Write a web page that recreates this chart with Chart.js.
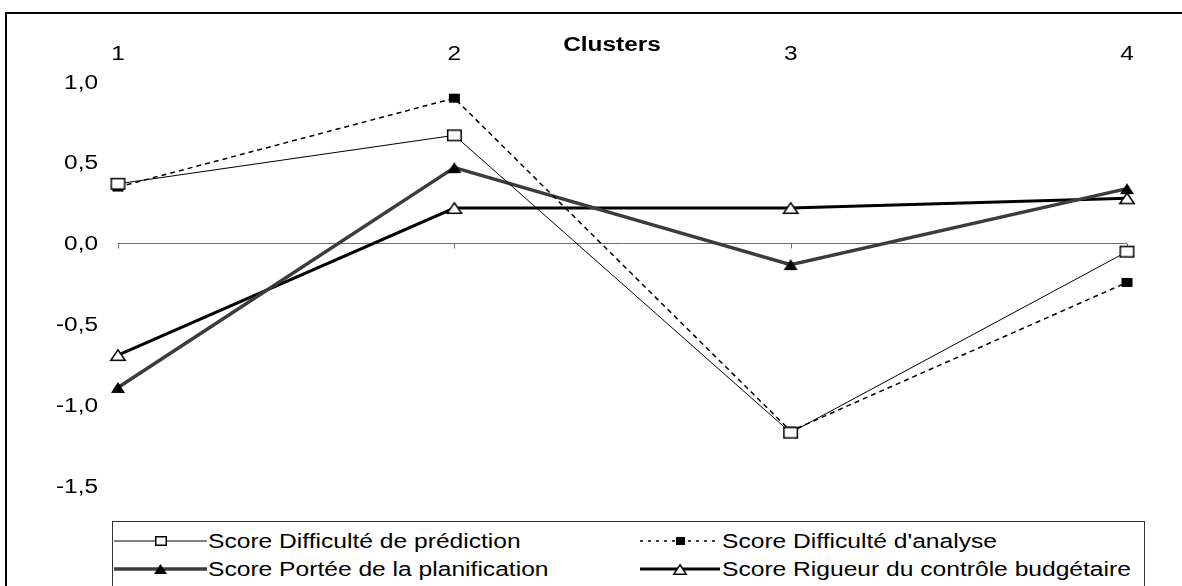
<!DOCTYPE html>
<html>
<head>
<meta charset="utf-8">
<script src="https://cdn.jsdelivr.net/npm/chart.js@4"></script>
<style>
  body { margin: 0; background: #fff; overflow: hidden; font-family: "Liberation Sans", Arial, sans-serif; }
  #wrap { position: relative; width: 1182px; height: 586px; overflow: hidden; }
  #frame { position: absolute; left: 5px; top: 12px; width: 1300px; height: 700px; border-top: 2px solid #000; border-left: 2px solid #000; }
  #chart { position: absolute; left: 0; top: 0; }
  #title { position: absolute; left: 512px; top: 33px; width: 200px; text-align: center; font-weight: bold; font-size: 20px; transform: scaleX(1.22); }
  #legend { position: absolute; left: 112px; top: 521px; width: 1031px; height: 90px; border: 1px solid #333; background: #fff; }
  .item { position: absolute; height: 28px; }
  .item canvas { position: absolute; left: 0; top: 0; }
  .item span { position: absolute; top: 3px; font-size: 20px; white-space: nowrap; color: #000; transform: scaleX(1.23); transform-origin: 0 50%; }
</style>
</head>
<body>
<div id="wrap">
  <div id="frame"></div>
  <canvas id="chart" width="1182" height="586"></canvas>
  <div id="title">Clusters</div>
  <div id="legend"></div>
</div>
<script>
// data
const categories = ["1", "2", "3", "4"];
const labels = [
  "Score Difficulté de prédiction",
  "Score Difficulté d'analyse",
  "Score Portée de la planification",
  "Score Rigueur du contrôle budgétaire",
];
const prediction = [0.37, 0.67, -1.17, -0.05];
const analyse = [0.35, 0.9, -1.16, -0.24];
const portee = [-0.89, 0.47, -0.13, 0.34];
const rigueur = [-0.69, 0.22, 0.22, 0.28];
const yTicks = [1.0, 0.5, 0.0, -0.5, -1.0, -1.5];

const fontFam = "'Liberation Sans', Arial, sans-serif";
const SX = 1.22; // the picture is wider than tall: stretch text + markers
const canvasChart = document.getElementById("chart");
const fmt = (v) => Number(v).toFixed(1).replace(".", ",");

// marker images (a bit wider than tall)
const makeMarker = (kind, w, h, fill, stroke, lw) => {
  const cv = document.createElement("canvas");
  cv.width = w + 2;
  cv.height = h + 2;
  const c = cv.getContext("2d");
  c.fillStyle = fill;
  c.strokeStyle = stroke;
  c.lineWidth = lw;
  const p = lw / 2 + 1;
  c.beginPath();
  if (kind === "square") {
    c.rect(p, p, cv.width - 2 * p, cv.height - 2 * p);
  } else {
    c.moveTo(cv.width / 2, p);
    c.lineTo(cv.width - p, cv.height - p);
    c.lineTo(p, cv.height - p);
    c.closePath();
  }
  c.fill();
  if (lw > 0) c.stroke();
  return cv;
};

const markers = [
  makeMarker("square", 15, 12, "#fff", "#000", 1.5),
  makeMarker("square", 11, 9, "#000", "#000", 0),
  makeMarker("tri", 14, 11, "#000", "#000", 0),
  makeMarker("tri", 16, 12, "#fff", "#000", 1.5),
];
const legendMarkers = [
  makeMarker("square", 12, 10, "#fff", "#000", 1.5),
  makeMarker("square", 9, 8, "#000", "#000", 0),
  makeMarker("tri", 13, 10, "#000", "#000", 0),
  makeMarker("tri", 14, 11, "#fff", "#000", 1.5),
];

const datasets = [
  { label: labels[0], data: prediction, borderColor: "#000", borderWidth: 1 },
  { label: labels[1], data: analyse, borderColor: "#000", borderWidth: 1.5, borderDash: [5, 4] },
  { label: labels[2], data: portee, borderColor: "#3c3c3c", borderWidth: 3.5 },
  { label: labels[3], data: rigueur, borderColor: "#000", borderWidth: 3 },
];
datasets.forEach((d, i) => {
  d.tension = 0;
  d.clip = false;
  d.fill = false;
  d.pointStyle = markers[i];
  d.pointRadius = 8;
});

// small ticks under the zero line + stretched axis labels
const axisDeco = {
  id: "axisDeco",
  beforeDatasetsDraw(chart) {
    const xs = chart.scales.x, ys = chart.scales.y, c = chart.ctx;
    const y0 = ys.getPixelForValue(0);
    c.save();
    c.strokeStyle = "#6e6e6e";
    c.lineWidth = 1;
    categories.forEach((cat, i) => {
      const x = Math.round(xs.getPixelForValue(i)) + 0.5;
      c.beginPath();
      c.moveTo(x, y0);
      c.lineTo(x, y0 + 5);
      c.stroke();
    });
    c.restore();
  },
  afterDraw(chart) {
    const xs = chart.scales.x, ys = chart.scales.y, c = chart.ctx;
    const area = chart.chartArea;
    c.save();
    c.fillStyle = "#000";
    c.font = "20px " + fontFam;
    c.textBaseline = "middle";
    yTicks.forEach((v) => {
      c.save();
      c.translate(area.left - 20, ys.getPixelForValue(v) + 1);
      c.scale(SX, 1);
      c.textAlign = "right";
      c.fillText(fmt(v), 0, 0);
      c.restore();
    });
    categories.forEach((cat, i) => {
      c.save();
      c.translate(xs.getPixelForValue(i), area.top - 28);
      c.scale(SX, 1);
      c.textAlign = "center";
      c.fillText(cat, 0, 0);
      c.restore();
    });
    c.restore();
  },
};

new Chart(canvasChart, {
  type: "line",
  data: { labels: categories, datasets: datasets },
  options: {
    responsive: false,
    devicePixelRatio: 1,
    animation: false,
    layout: { padding: { top: 0, left: 0, right: 55, bottom: 100 } },
    plugins: { legend: { display: false }, tooltip: { enabled: false } },
    scales: {
      x: {
        type: "category",
        position: "top",
        offset: false,
        grid: { display: false, drawTicks: false },
        border: { display: false },
        ticks: { display: false },
        afterFit: (s) => { s.height = 82; },
      },
      y: {
        min: -1.5,
        max: 1.0,
        afterBuildTicks: (s) => { s.ticks = yTicks.map((v) => ({ value: v })); },
        grid: {
          drawTicks: false,
          color: (c) => (c.tick && c.tick.value === 0 ? "#6e6e6e" : "rgba(0,0,0,0)"),
          lineWidth: 1,
        },
        border: { display: false },
        ticks: { display: false },
        afterFit: (s) => { s.width = 118; },
      },
    },
  },
  plugins: [axisDeco],
});

// legend, 2 columns
const legendBox = document.getElementById("legend");
const slots = [
  { left: 1, top: 5, w: 93, text: 95 },
  { left: 527, top: 5, w: 80, text: 609 },
  { left: 1, top: 33, w: 93, text: 95 },
  { left: 527, top: 33, w: 80, text: 609 },
];
datasets.forEach((d, i) => {
  const s = slots[i];
  const item = document.createElement("div");
  item.className = "item";
  item.style.left = s.left + "px";
  item.style.top = s.top + "px";
  const cv = document.createElement("canvas");
  cv.width = s.w;
  cv.height = 28;
  const span = document.createElement("span");
  span.style.left = (s.text - s.left) + "px";
  span.textContent = d.label;
  item.appendChild(cv);
  item.appendChild(span);
  legendBox.appendChild(item);

  const c = cv.getContext("2d");
  c.strokeStyle = d.borderColor;
  c.lineWidth = d.borderWidth;
  c.setLineDash(i === 1 ? [3, 5] : []);
  c.beginPath();
  c.moveTo(0, 14);
  c.lineTo(s.w, 14);
  c.stroke();
  const m = legendMarkers[i];
  c.drawImage(m, Math.round(s.w / 2 - m.width / 2), Math.round(14 - m.height / 2));
});
</script>
</body>
</html>
